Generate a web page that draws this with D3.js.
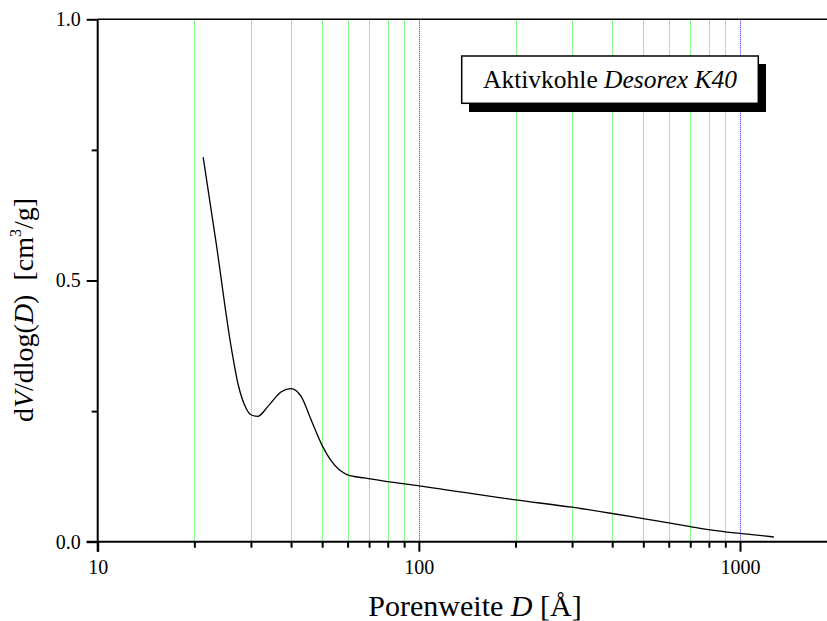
<!DOCTYPE html>
<html>
<head>
<meta charset="utf-8">
<script src="https://cdn.jsdelivr.net/npm/d3@7/dist/d3.min.js"></script>
<style>
body { margin: 0; background: #fff; }
svg text { font-family: "Liberation Serif", "Times New Roman", Times, "DejaVu Serif", serif !important; fill: #000; }
.axis line { stroke: #000; stroke-width: 2; }
</style>
</head>
<body>
<div id="chart"></div>
<script>

var width = 827;
var height = 621;

// pore width D [Å] and dV/dlog(D) [cm3/g]
var poreWidth = [21.3, 23.4, 26.0, 27.4, 29.0, 30.0, 31.5, 33.9, 37.3, 40.0, 43.0, 46.2, 50.2, 53.3, 60.0, 67.6, 80.0, 100, 200, 300, 400, 500, 600, 700, 800, 900, 1000, 1275];
var dvdlogd   = [0.736, 0.570, 0.375, 0.300, 0.255, 0.243, 0.240, 0.259, 0.287, 0.293, 0.278, 0.233, 0.182, 0.155, 0.128, 0.122, 0.115, 0.107, 0.080, 0.066, 0.054, 0.044, 0.036, 0.029, 0.023, 0.019, 0.016, 0.009];

var xMajor = [10, 100, 1000];
var xMinor = [20, 30, 40, 50, 60, 70, 80, 90, 200, 300, 400, 500, 600, 700, 800, 900];
var yMajor = [0, 0.5, 1.0];
var yMinor = [0.25, 0.75];
var gridGreen = [20, 30, 40, 50, 60, 70, 80, 90, 200, 300, 400, 500, 600, 700, 800, 900];
var gridBlue = [100, 1000];

var x = d3.scaleLog().domain([10, 1000]).range([97.7, 740]);
var y = d3.scaleLinear().domain([0, 1]).range([541.7, 19.3]);
var xEnd = 827;

var svg = d3.select("#chart")
  .append("svg")
    .attr("width", width)
    .attr("height", height);

// grid
var grid = svg.append("g");
grid.selectAll(".gridG")
    .data(gridGreen).enter().append("line")
    .attr("class", "gridG")
    .attr("stroke", "#11ee11")
    .attr("stroke-dasharray", "1,1")
    .attr("x1", d => Math.round(x(d)) + 0.5)
    .attr("x2", d => Math.round(x(d)) + 0.5)
    .attr("y1", y(1))
    .attr("y2", y(0));
grid.selectAll(".gridB")
    .data(gridBlue).enter().append("line")
    .attr("class", "gridB")
    .attr("stroke", "#2222ff")
    .attr("stroke-dasharray", "1,1")
    .attr("x1", d => Math.round(x(d)) + 0.5)
    .attr("x2", d => Math.round(x(d)) + 0.5)
    .attr("y1", y(1))
    .attr("y2", y(0));

// top frame line
svg.append("line")
    .attr("stroke", "#000").attr("stroke-width", 1.5)
    .attr("x1", x(10)).attr("x2", xEnd)
    .attr("y1", y(1)).attr("y2", y(1));

// x axis
var xAx = svg.append("g")
    .attr("class", "axis")
    .attr("transform", `translate(0,${y(0)})`)
    .call(d3.axisBottom(x).tickValues(xMajor).tickSize(10).tickPadding(8).tickFormat(d3.format("d")));
xAx.select(".domain").remove();
xAx.selectAll("text").attr("font-size", 20);
var xAx2 = svg.append("g")
    .attr("class", "axis")
    .attr("transform", `translate(0,${y(0)})`)
    .call(d3.axisBottom(x).tickValues(xMinor).tickSize(6).tickFormat(""));
xAx2.select(".domain").remove();

// y axis
var yAx = svg.append("g")
    .attr("class", "axis")
    .attr("transform", `translate(${x(10)},0)`)
    .call(d3.axisLeft(y).tickValues(yMajor).tickSize(11).tickPadding(6).tickFormat(d3.format(".1f")));
yAx.select(".domain").remove();
yAx.selectAll("text").attr("font-size", 20);
var yAx2 = svg.append("g")
    .attr("class", "axis")
    .attr("transform", `translate(${x(10)},0)`)
    .call(d3.axisLeft(y).tickValues(yMinor).tickSize(6).tickFormat(""));
yAx2.select(".domain").remove();

// axis lines
svg.append("line")
    .attr("stroke", "#000").attr("stroke-width", 2)
    .attr("x1", x(10) - 11).attr("x2", xEnd)
    .attr("y1", y(0)).attr("y2", y(0));
svg.append("line")
    .attr("stroke", "#000").attr("stroke-width", 2)
    .attr("x1", x(10)).attr("x2", x(10))
    .attr("y1", y(1)).attr("y2", y(0) + 10);

// curve
var pts = poreWidth.map((d, i) => [d, dvdlogd[i]]);
svg.append("path")
    .datum(pts)
    .attr("fill", "none")
    .attr("stroke", "#000")
    .attr("stroke-width", 1.3)
    .attr("d", d3.line()
        .x(d => x(d[0]))
        .y(d => y(d[1]))
        .curve(d3.curveMonotoneX));

// axis titles
var xt = svg.append("text")
    .attr("x", 475).attr("y", 616)
    .attr("text-anchor", "middle")
    .attr("font-size", 30);
xt.append("tspan").text("Porenweite ");
xt.append("tspan").attr("font-style", "italic").text("D");
xt.append("tspan").text(" [Å]");

var yt = svg.append("text")
    .attr("transform", "translate(33,310) rotate(-90)")
    .attr("text-anchor", "middle")
    .attr("font-size", 28);
yt.append("tspan").text("d");
yt.append("tspan").attr("font-style", "italic").text("V");
yt.append("tspan").text("/dlog(");
yt.append("tspan").attr("font-style", "italic").text("D");
yt.append("tspan").text(")\u00a0\u00a0[cm");
yt.append("tspan").attr("font-size", 16).attr("dy", -12).text("3");
yt.append("tspan").attr("dy", 12).text("/g]");

// legend box with shadow
svg.append("rect")
    .attr("x", 469).attr("y", 64)
    .attr("width", 297).attr("height", 48)
    .attr("fill", "#000");
svg.append("rect")
    .attr("x", 461.7).attr("y", 56)
    .attr("width", 296.6).attr("height", 47.3)
    .attr("fill", "#fff")
    .attr("stroke", "#000")
    .attr("stroke-width", 1.5);
var lt = svg.append("text")
    .attr("x", 610).attr("y", 88)
    .attr("text-anchor", "middle")
    .attr("font-size", 25.5);
lt.append("tspan").text("Aktivkohle ");
lt.append("tspan").attr("font-style", "italic").text("Desorex K40");

</script>
</body>
</html>
